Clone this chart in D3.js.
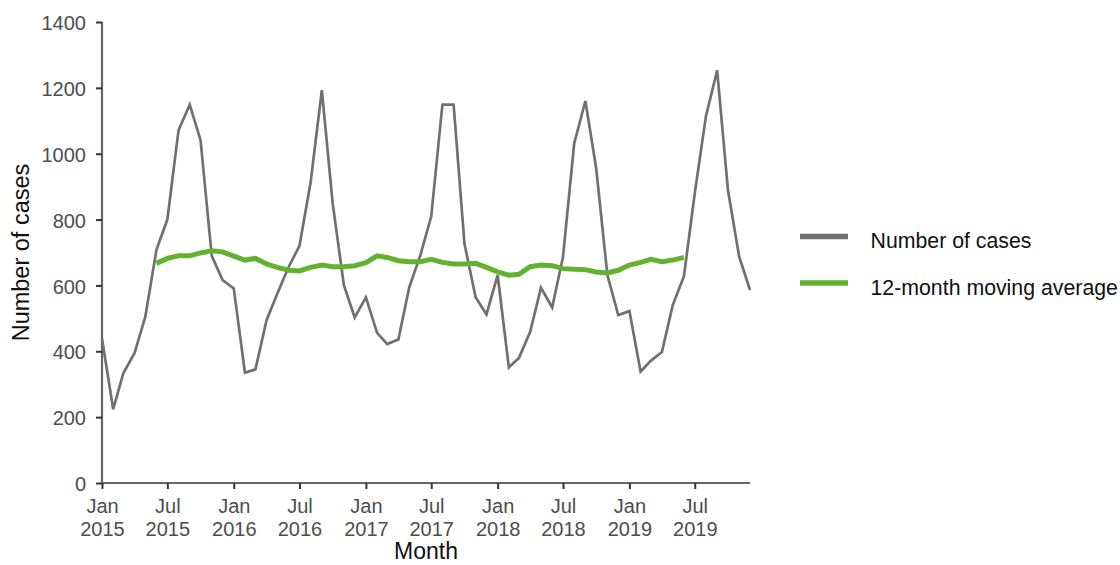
<!DOCTYPE html>
<html><head><meta charset="utf-8">
<script src="https://cdn.jsdelivr.net/npm/d3@7"></script>
<style>body{margin:0;background:#fff;}svg{display:block;font-family:"Liberation Sans",Arial,sans-serif;}</style>
</head><body><svg id="c" width="1120" height="565"></svg>
<script>
// Monthly data, Jan 2015 – Dec 2019
const startYear = 2015, startMonth = 0;
const cases = [439,224,333,394,505,709,800,1071,1149,1041,690,616,
               591,335,345,495,576,656,720,914,1193,849,601,503,
               564,456,422,436,594,692,810,1149,1149,727,564,512,
               631,351,380,459,593,533,687,1031,1160,955,631,510,
               522,338,371,398,540,628,880,1114,1253,889,687,586];
// 12-month moving average, Jun 2015 – Jun 2019
const maStartIndex = 5;
const movingAvg = [667,682,690,690,699,705,702,689,677,682,665,655,646,644,
                   655,662,657,657,660,669,690,685,675,672,672,679,670,665,665,667,655,641,631,634,
                   657,662,660,651,649,648,641,638,646,662,670,679,672,677,685];
const yTicks = [0,200,400,600,800,1000,1200,1400];
const monthNames = ["Jan","Feb","Mar","Apr","May","Jun","Jul","Aug","Sep","Oct","Nov","Dec"];
const seriesNames = ["Number of cases","12-month moving average"];
const seriesColors = ["#707070","#63b22f"];

const dateOf = i => new Date(startYear, startMonth + i, 1);
const svg = d3.select("#c");
const m = {l:102, r:750, t:22, b:483};
const x = d3.scaleTime().domain([dateOf(0), dateOf(cases.length-1)]).range([m.l, m.r]);
const y = d3.scaleLinear().domain([0,1400]).range([m.b, m.t]);

const axisColor = "#666";
// y axis
const ya = svg.append("g").attr("transform",`translate(${m.l},0)`)
  .call(d3.axisLeft(y).tickValues(yTicks).tickSize(6).tickPadding(10).tickFormat(d3.format("d")));
// x axis
const xTickDates = d3.range(0, 60, 6).map(dateOf);
const xa = svg.append("g").attr("transform",`translate(0,${m.b})`)
  .call(d3.axisBottom(x).tickValues(xTickDates).tickSize(6).tickFormat(""));
[ya, xa].forEach(g=>{
  g.select(".domain").attr("stroke",axisColor).attr("stroke-width",2.2);
  g.selectAll(".tick line").attr("stroke","#333").attr("stroke-width",2);
});
xa.select(".domain").attr("d",`M${m.l},0H${m.r}`);
ya.select(".domain").attr("d",`M0,${m.b}V${m.t}`);
ya.selectAll(".tick text").attr("font-size",20).attr("dy","0.38em").attr("fill","#4d4d4d")
  .attr("font-family","Liberation Sans, Arial, sans-serif");

xa.selectAll(".tick").each(function(d){
  const t = d3.select(this).append("text").attr("fill","#4d4d4d").attr("font-size",20).attr("text-anchor","middle");
  t.append("tspan").attr("x",0).attr("y",30).text(monthNames[d.getMonth()]);
  t.append("tspan").attr("x",0).attr("y",53).text(d.getFullYear());
});

// lines
const lineCases = d3.line().x((d,i)=>x(dateOf(i))).y(d=>y(d));
svg.append("path").datum(cases).attr("d",lineCases)
  .attr("fill","none").attr("stroke",seriesColors[0]).attr("stroke-width",2.7).attr("stroke-linejoin","miter");
const lineMA = d3.line().x((d,i)=>x(dateOf(i+maStartIndex))).y(d=>y(d));
svg.append("path").datum(movingAvg).attr("d",lineMA)
  .attr("fill","none").attr("stroke",seriesColors[1]).attr("stroke-width",5);

// axis titles
svg.append("text").attr("x",(m.l+m.r)/2).attr("y",559).attr("text-anchor","middle")
  .attr("font-size",23).attr("fill","#111").text("Month");
svg.append("text").attr("transform",`translate(29,${(m.t+m.b)/2}) rotate(-90)`).attr("text-anchor","middle")
  .attr("font-size",23.5).attr("fill","#111").text("Number of cases");

// legend
const lg = svg.append("g");
seriesNames.forEach((n,i)=>{
  const yy = 236.5 + i*46.5;
  lg.append("line").attr("x1",800).attr("x2",848).attr("y1",yy).attr("y2",yy)
    .attr("stroke",seriesColors[i]).attr("stroke-width",5.5);
  lg.append("text").attr("x",870.5).attr("y",yy+11.8).attr("font-size",21.3).attr("fill","#111").text(n);
});
</script></body></html>
